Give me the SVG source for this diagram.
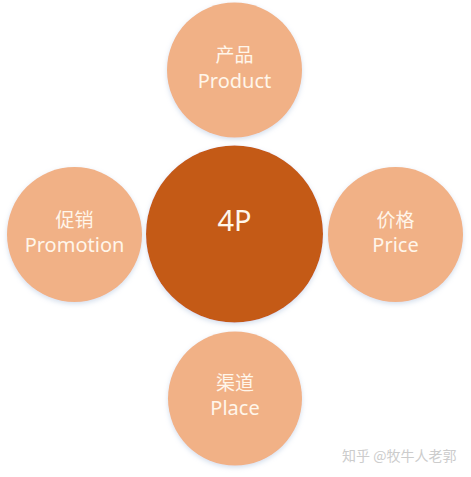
<svg xmlns="http://www.w3.org/2000/svg" width="471" height="477" viewBox="0 0 471 477">
  <defs>
    <filter id="glow" x="-20%" y="-20%" width="140%" height="140%">
      <feDropShadow dx="0" dy="2" stdDeviation="2.5" flood-color="#9fb6d6" flood-opacity="0.45"/>
    </filter>
  </defs>
  <style>
    .light { fill: #F1B186; filter: url(#glow); }
    .dark { fill: #C45A12; filter: url(#glow); }
    .lbl { font-family: "Noto Sans", "Open Sans", "Noto Sans CJK SC", sans-serif; fill: #FFF6EA; text-anchor: middle; }
    .cn { font-size: 19px; font-family: "Noto Sans CJK SC", sans-serif; }
    .en { font-size: 20px; }
    .big { font-size: 29px; }
    .wm { font-family: "Noto Sans CJK SC", sans-serif; font-size: 14px; fill: #cccccc; }
  </style>
  <rect width="471" height="477" fill="#ffffff"/>
  <g id="connectors"></g>
  <g id="product">
    <circle class="light" cx="234.5" cy="70" r="67.5"/>
    <text class="lbl cn" x="234.5" y="62">产品</text>
    <text class="lbl en" x="234.5" y="88">Product</text>
  </g>
  <g id="center">
    <circle class="dark" cx="234.5" cy="234" r="88.5"/>
    <text class="lbl big" x="234.5" y="231">4P</text>
  </g>
  <g id="promotion">
    <circle class="light" cx="74.5" cy="234.5" r="67.5"/>
    <text class="lbl cn" x="74.5" y="227">促销</text>
    <text class="lbl en" x="74.5" y="252">Promotion</text>
  </g>
  <g id="price">
    <circle class="light" cx="395.5" cy="234.5" r="67.5"/>
    <text class="lbl cn" x="395.5" y="227">价格</text>
    <text class="lbl en" x="395.5" y="252">Price</text>
  </g>
  <g id="place">
    <circle class="light" cx="235" cy="398.5" r="67"/>
    <text class="lbl cn" x="235" y="390">渠道</text>
    <text class="lbl en" x="235" y="415">Place</text>
  </g>
  <text class="wm" x="342" y="461">知乎 @牧牛人老郭</text>
</svg>
